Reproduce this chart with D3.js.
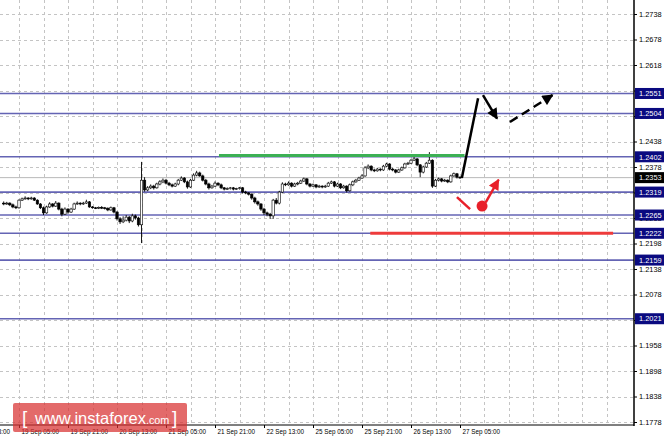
<!DOCTYPE html>
<html><head><meta charset="utf-8">
<script src="https://cdn.jsdelivr.net/npm/d3@7"></script>
<style>
html,body{margin:0;padding:0;background:#fff;}
svg{display:block;font-family:"Liberation Sans",Arial,sans-serif;}
</style></head>
<body>
<svg id="c" width="664" height="442"></svg>
<script>
// ---------- DATA ----------
const opens = [1.2293,1.2291,1.2293,1.2289,1.2284,1.2282,1.2300,1.2303,1.2305,1.2303,
1.2305,1.2300,1.2291,1.2282,1.2270,1.2284,1.2291,1.2286,1.2293,1.2279,
1.2267,1.2279,1.2272,1.2279,1.2291,1.2293,1.2291,1.2293,1.2296,1.2284,
1.2282,1.2281,1.2283,1.2282,1.2281,1.2277,1.2282,1.2272,1.2256,1.2249,
1.2253,1.2260,1.2251,1.2263,1.2258,1.2242,1.2347,1.2324,1.2329,1.2333,
1.2329,1.2338,1.2343,1.2347,1.2340,1.2336,1.2333,1.2338,1.2347,1.2352,
1.2343,1.2331,1.2347,1.2359,1.2364,1.2357,1.2347,1.2338,1.2329,1.2333,
1.2340,1.2336,1.2329,1.2326,1.2327,1.2329,1.2326,1.2327,1.2329,1.2319,
1.2317,1.2314,1.2305,1.2296,1.2291,1.2279,1.2270,1.2267,1.2263,1.2300,
1.2293,1.2319,1.2338,1.2336,1.2340,1.2333,1.2338,1.2340,1.2345,1.2350,
1.2338,1.2333,1.2336,1.2331,1.2333,1.2331,1.2333,1.2340,1.2343,1.2333,
1.2338,1.2329,1.2333,1.2322,1.2336,1.2343,1.2347,1.2352,1.2357,1.2376,
1.2380,1.2371,1.2369,1.2373,1.2371,1.2380,1.2385,1.2373,1.2371,1.2366,
1.2371,1.2376,1.2385,1.2387,1.2394,1.2397,1.2383,1.2366,1.2378,1.2387,
1.2394,1.2333,1.2347,1.2350,1.2345,1.2347,1.2343,1.2357,1.2362,1.2354];
const closes = [1.2291,1.2293,1.2289,1.2284,1.2282,1.2300,1.2303,1.2305,1.2303,1.2305,
1.2300,1.2291,1.2282,1.2270,1.2284,1.2291,1.2286,1.2293,1.2279,1.2267,
1.2279,1.2272,1.2279,1.2291,1.2293,1.2291,1.2293,1.2296,1.2284,1.2282,
1.2281,1.2283,1.2282,1.2281,1.2277,1.2282,1.2272,1.2256,1.2249,1.2253,
1.2260,1.2251,1.2263,1.2258,1.2242,1.2347,1.2324,1.2329,1.2333,1.2329,
1.2338,1.2343,1.2347,1.2340,1.2336,1.2333,1.2338,1.2347,1.2352,1.2343,
1.2331,1.2347,1.2359,1.2364,1.2357,1.2347,1.2338,1.2329,1.2333,1.2340,
1.2336,1.2329,1.2326,1.2327,1.2329,1.2326,1.2327,1.2329,1.2319,1.2317,
1.2314,1.2305,1.2296,1.2291,1.2279,1.2270,1.2267,1.2263,1.2300,1.2293,
1.2319,1.2338,1.2336,1.2340,1.2333,1.2338,1.2340,1.2345,1.2350,1.2338,
1.2333,1.2336,1.2331,1.2333,1.2331,1.2333,1.2340,1.2343,1.2333,1.2338,
1.2329,1.2333,1.2322,1.2336,1.2343,1.2347,1.2352,1.2357,1.2376,1.2380,
1.2371,1.2369,1.2373,1.2371,1.2380,1.2385,1.2373,1.2371,1.2366,1.2371,
1.2376,1.2385,1.2387,1.2394,1.2397,1.2383,1.2366,1.2378,1.2387,1.2394,
1.2333,1.2347,1.2350,1.2345,1.2347,1.2343,1.2357,1.2362,1.2354,1.2353];
const highs = [1.2297,1.2296,1.2295,1.2292,1.2287,1.2302,1.2306,1.2309,1.2307,1.2308,
1.2307,1.2302,1.2293,1.2285,1.2287,1.2295,1.2293,1.2298,1.2295,1.2282,
1.2283,1.2281,1.2282,1.2294,1.2297,1.2295,1.2296,1.2301,1.2298,1.2286,
1.2284,1.2285,1.2286,1.2284,1.2283,1.2285,1.2284,1.2274,1.2260,1.2262,
1.2265,1.2263,1.2268,1.2266,1.2261,1.2390,1.2354,1.2333,1.2337,1.2336,
1.2341,1.2347,1.2351,1.2350,1.2343,1.2339,1.2341,1.2350,1.2356,1.2354,
1.2346,1.2350,1.2363,1.2369,1.2367,1.2360,1.2350,1.2341,1.2336,1.2344,
1.2342,1.2339,1.2331,1.2330,1.2331,1.2331,1.2329,1.2331,1.2331,1.2322,
1.2319,1.2316,1.2308,1.2299,1.2293,1.2282,1.2273,1.2270,1.2303,1.2305,
1.2322,1.2342,1.2341,1.2344,1.2342,1.2341,1.2343,1.2348,1.2353,1.2352,
1.2340,1.2339,1.2338,1.2336,1.2335,1.2336,1.2343,1.2346,1.2345,1.2341,
1.2340,1.2336,1.2335,1.2339,1.2346,1.2350,1.2355,1.2361,1.2380,1.2384,
1.2382,1.2374,1.2376,1.2375,1.2383,1.2388,1.2387,1.2376,1.2373,1.2374,
1.2379,1.2388,1.2390,1.2397,1.2402,1.2399,1.2385,1.2381,1.2390,1.2413,
1.2396,1.2350,1.2353,1.2352,1.2350,1.2349,1.2360,1.2365,1.2364,1.2356];
const lows = [1.2288,1.2289,1.2286,1.2281,1.2279,1.2280,1.2298,1.2301,1.2300,1.2301,
1.2298,1.2289,1.2279,1.2265,1.2268,1.2282,1.2283,1.2284,1.2276,1.2262,
1.2265,1.2268,1.2270,1.2277,1.2289,1.2288,1.2289,1.2291,1.2282,1.2280,
1.2279,1.2279,1.2279,1.2278,1.2274,1.2275,1.2269,1.2252,1.2244,1.2246,
1.2250,1.2246,1.2248,1.2254,1.2238,1.2199,1.2320,1.2321,1.2326,1.2325,
1.2327,1.2335,1.2340,1.2337,1.2333,1.2330,1.2331,1.2335,1.2345,1.2340,
1.2327,1.2329,1.2345,1.2356,1.2355,1.2344,1.2335,1.2325,1.2327,1.2331,
1.2333,1.2326,1.2323,1.2324,1.2325,1.2323,1.2324,1.2325,1.2316,1.2314,
1.2311,1.2301,1.2292,1.2287,1.2275,1.2265,1.2262,1.2256,1.2256,1.2290,
1.2290,1.2317,1.2333,1.2334,1.2330,1.2331,1.2335,1.2338,1.2343,1.2335,
1.2330,1.2331,1.2328,1.2329,1.2328,1.2329,1.2331,1.2338,1.2330,1.2331,
1.2326,1.2327,1.2318,1.2320,1.2333,1.2341,1.2345,1.2350,1.2355,1.2373,
1.2368,1.2366,1.2367,1.2368,1.2369,1.2378,1.2370,1.2368,1.2363,1.2364,
1.2369,1.2374,1.2383,1.2385,1.2392,1.2380,1.2354,1.2363,1.2376,1.2385,
1.2329,1.2331,1.2344,1.2342,1.2343,1.2340,1.2341,1.2355,1.2351,1.2350];

const priceTicks = [1.1778,1.1838,1.1898,1.1958,1.2018,1.2078,1.2138,1.2198,1.2258,1.2318,1.2378,1.2438,1.2498,1.2558,1.2618,1.2678,1.2738];
const levels = [1.2551,1.2504,1.2402,1.2319,1.2265,1.2222,1.2159,1.2021];
const currentPrice = 1.2353;
const timeTickBars = [-11,5,21,37,53,69,85,101,117,133,149];
const timeLabels = ["18 Sep 13:00","19 Sep 05:00","19 Sep 21:00","20 Sep 13:00","21 Sep 05:00","21 Sep 21:00","22 Sep 13:00","25 Sep 05:00","25 Sep 21:00","26 Sep 13:00","27 Sep 05:00"];
const gridBars = [-3,5,13,21,29,37,45,53,61,69,77,85,93,101,109,117,125,133,141,149,157,165,173,181,189,197];
// annotations in (bar index, price)
const greenLine = {k0:70.3, k1:150.5, p:1.2405};
const redLine = {k0:119.7, k1:199, p:1.2222};
const blackUp = [[149.6,1.2352],[154.9,1.2540]];
const blackDown = [[156.5,1.2547],[161.1,1.2492]];
const blackDash = [[165.3,1.2484],[179.2,1.2547]];
const redSeg = [[148,1.2307],[152.3,1.2279]];
const redDot = [156.2,1.2286];
const redArrow = [[157.4,1.2295],[161.6,1.2348]];

// ---------- CHART ----------
const svg = d3.select("#c");
const axisX = 634, axisY = 425;
const x = d3.scaleLinear().domain([0,149]).range([3.7,460]);
const y = d3.scaleLinear().domain([1.1778,1.2738]).range([422,14]);

const defs = svg.append("defs");
function marker(id,color){
  defs.append("marker").attr("id",id).attr("viewBox","0 0 10 10")
    .attr("refX",9).attr("refY",5).attr("markerWidth",13).attr("markerHeight",11)
    .attr("markerUnits","userSpaceOnUse").attr("orient","auto")
    .append("path").attr("d","M0,0 L10,5 L0,10 z").attr("fill",color);
}
marker("ab","#000"); marker("ar","#e8202a");

// grid
const grid = svg.append("g").attr("stroke","#c4c4c4").attr("stroke-width",1).attr("stroke-dasharray","3,3");
grid.selectAll("line.h").data(priceTicks).join("line")
  .attr("x1",0).attr("x2",axisX).attr("y1",d=>Math.round(y(d))+0.5).attr("y2",d=>Math.round(y(d))+0.5);
grid.selectAll("line.v").data(gridBars.filter(k=>x(k)>0 && x(k)<axisX-2)).join("line")
  .attr("class","v")
  .attr("x1",d=>Math.round(x(d))+0.5).attr("x2",d=>Math.round(x(d))+0.5).attr("y1",0).attr("y2",axisY);

// current price line
svg.append("line").attr("x1",0).attr("x2",axisX).attr("y1",y(currentPrice)).attr("y2",y(currentPrice))
  .attr("stroke","#b8b8b8").attr("stroke-width",1);

// level lines
svg.append("g").selectAll("line").data(levels).join("line")
  .attr("x1",0).attr("x2",axisX).attr("y1",d=>y(d)).attr("y2",d=>y(d))
  .attr("stroke","#4a4aa8").attr("stroke-width",1.6).attr("opacity",0.85);

// candles
const bars = closes.map((c,i)=>({i,o:opens[i],h:highs[i],l:lows[i],c}));
const cg = svg.append("g");
cg.selectAll("line").data(bars).join("line")
  .attr("x1",d=>x(d.i)).attr("x2",d=>x(d.i)).attr("y1",d=>y(d.h)).attr("y2",d=>y(d.l))
  .attr("stroke","#000").attr("stroke-width",0.9);
cg.selectAll("rect").data(bars).join("rect")
  .attr("x",d=>x(d.i)-1.2).attr("width",2.4)
  .attr("y",d=>y(Math.max(d.o,d.c)))
  .attr("height",d=>Math.max(0.8,Math.abs(y(d.o)-y(d.c))))
  .attr("fill",d=>d.c>=d.o?"#fff":"#000").attr("stroke","#000").attr("stroke-width",0.6);

// green & red horizontal lines
svg.append("line").attr("x1",x(greenLine.k0)).attr("x2",x(greenLine.k1))
  .attr("y1",y(greenLine.p)).attr("y2",y(greenLine.p)).attr("stroke","#3cb054").attr("stroke-width",3);
svg.append("line").attr("x1",x(redLine.k0)).attr("x2",x(redLine.k1))
  .attr("y1",y(redLine.p)).attr("y2",y(redLine.p)).attr("stroke","#ee3b3b").attr("stroke-width",3);

// arrows
function seg(pts,color,w,mk,dash){
  const l = svg.append("line").attr("x1",x(pts[0][0])).attr("y1",y(pts[0][1]))
    .attr("x2",x(pts[1][0])).attr("y2",y(pts[1][1])).attr("stroke",color).attr("stroke-width",w);
  if(mk) l.attr("marker-end",`url(#${mk})`);
  if(dash) l.attr("stroke-dasharray",dash);
}
seg(blackUp,"#000",2.5);
seg(blackDown,"#000",2.5,"ab");
seg(blackDash,"#000",2.5,"ab","9,5");
seg(redSeg,"#e8202a",2.5);
seg(redArrow,"#e8202a",2.5,"ar");
svg.append("circle").attr("cx",x(redDot[0])).attr("cy",y(redDot[1])).attr("r",5.5).attr("fill","#e8202a");

// right axis
const ra = svg.append("g").attr("transform",`translate(${axisX},0)`)
  .call(d3.axisRight(y).tickValues(priceTicks).tickSize(3).tickFormat(d3.format(".4f")));
ra.select(".domain").remove();
ra.selectAll(".tick line").attr("stroke","#000");
ra.selectAll(".tick text").attr("x",5).attr("font-size","7.4px").attr("fill","#000")
  .attr("font-family","Liberation Sans, Arial, sans-serif");
svg.append("line").attr("x1",axisX).attr("x2",axisX).attr("y1",0).attr("y2",axisY+1)
  .attr("stroke","#000").attr("stroke-width",1.5);

// bottom axis
const ba = svg.append("g").attr("transform",`translate(0,${axisY})`)
  .call(d3.axisBottom(x).tickValues(timeTickBars).tickSize(3).tickFormat((d,i)=>timeLabels[i]));
ba.select(".domain").remove();
ba.selectAll(".tick line").attr("stroke","#000");
ba.selectAll(".tick text").attr("text-anchor","start").attr("x",2).attr("y",5)
  .attr("font-size","6.3px").attr("fill","#000").attr("font-family","Liberation Sans, Arial, sans-serif");
svg.append("line").attr("x1",0).attr("x2",axisX).attr("y1",axisY).attr("y2",axisY)
  .attr("stroke","#000").attr("stroke-width",1);

// level label boxes
const lb = svg.append("g").selectAll("g").data(levels.map(v=>({v,bg:"#0a0a80"})).concat([{v:currentPrice,bg:"#000"}])).join("g");
lb.append("rect").attr("x",axisX+1).attr("width",29).attr("y",d=>y(d.v)-5.5).attr("height",11).attr("fill",d=>d.bg);
lb.append("text").attr("x",axisX+5).attr("y",d=>y(d.v)+2.7).attr("font-size","7.4px").attr("fill","#fff")
  .text(d=>d3.format(".4f")(d.v));

// watermark
const wm = svg.append("g");
wm.append("rect").attr("x",13).attr("y",403).attr("width",174).attr("height",29).attr("rx",2)
  .attr("fill","#d83030").attr("opacity",0.72);
const wt = wm.append("text").attr("y",423.5).attr("fill","#fff");
wt.append("tspan").attr("x",22).attr("font-size","19px").attr("font-weight","300").text("[");
wt.append("tspan").attr("x",35).attr("font-size","16.5px").text("www.instaforex");
wt.append("tspan").attr("font-size","10.8px").text(".com");
wt.append("tspan").attr("x",172).attr("font-size","19px").attr("font-weight","300").text("]");
</script>
</body></html>
